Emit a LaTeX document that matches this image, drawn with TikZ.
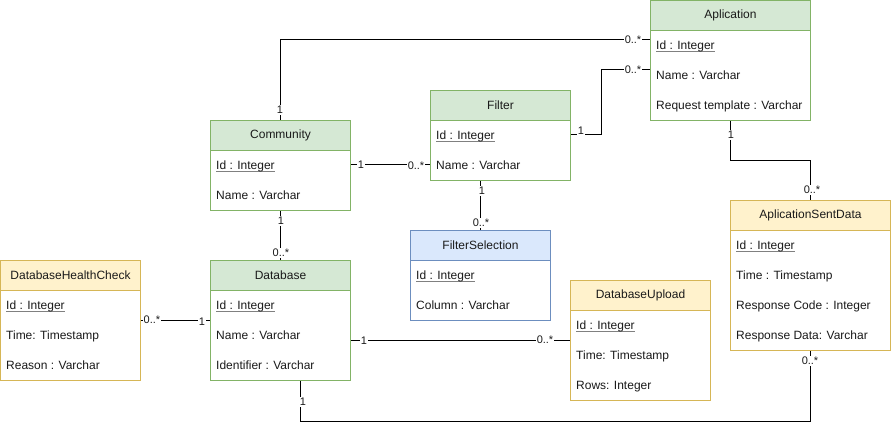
\documentclass[tikz,border=0pt]{standalone}
\usepackage{fontspec}
\setmainfont{Liberation Sans}
\usetikzlibrary{calc}
\definecolor{gfill}{HTML}{D5E8D4}\definecolor{gline}{HTML}{82B366}
\definecolor{yfill}{HTML}{FFF2CC}\definecolor{yline}{HTML}{D6B656}
\definecolor{bfill}{HTML}{DAE8FC}\definecolor{bline}{HTML}{6C8EBF}
\definecolor{txt}{HTML}{1A1A1A}
\newcommand\ul[1]{{\setbox0\hbox{#1}\rlap{\color{gray}\rule[-2.2pt]{\wd0}{0.9pt}}\box0}}
\begin{document}
\begin{tikzpicture}[x=1pt,y=-1pt,
  every node/.style={text=txt},
  frame/.style={draw=#1line, line width=1pt, fill=white, inner sep=0pt, anchor=north west},
  head/.style={draw=#1line, line width=1pt, fill=#1fill, inner sep=0pt, anchor=north west, minimum height=30pt, font=\fontsize{12}{14}\selectfont},
  row/.style={anchor=base west, inner sep=0pt, font=\fontsize{12}{14}\selectfont, yshift=-4.3pt},
  lbl/.style={fill=white, inner sep=1pt, font=\fontsize{11}{12}\selectfont},
  conn/.style={line width=1pt, draw=black}]
\useasboundingbox (0,0) rectangle (891,422);
% Aplication
\node[frame=g, minimum width=160pt, minimum height=120pt] (apl) at (650,0) {};
\node[head=g, minimum width=160pt] (aplh) at (650,0) {Aplication};
\node[row] (apl1) at (656,45) {\ul{Id : Integer}};
\node[row] (apl2) at (656,75) {Name : Varchar};
\node[row] (apl3) at (656,105) {Request template : Varchar};
% Filter
\node[frame=g, minimum width=140pt, minimum height=90pt] (fil) at (430,90) {};
\node[head=g, minimum width=140pt] (filh) at (430,90) {Filter};
\node[row] (fil1) at (436,135) {\ul{Id : Integer}};
\node[row] (fil2) at (436,165) {Name : Varchar};
% Community
\node[frame=g, minimum width=140pt, minimum height=90pt] (com) at (210,120) {};
\node[head=g, minimum width=140pt] (comh) at (210,120) {Community};
\node[row] (com1) at (216,165) {\ul{Id : Integer}};
\node[row] (com2) at (216,195) {Name : Varchar};
% FilterSelection
\node[frame=b, minimum width=140pt, minimum height=90pt] (fs) at (410,230) {};
\node[head=b, minimum width=140pt] (fsh) at (410,230) {FilterSelection};
\node[row] (fs1) at (416,275) {\ul{Id : Integer}};
\node[row] (fs2) at (416,305) {Column : Varchar};
% Database
\node[frame=g, minimum width=140pt, minimum height=120pt] (db) at (210,260) {};
\node[head=g, minimum width=140pt] (dbh) at (210,260) {Database};
\node[row] (db1) at (216,305) {\ul{Id : Integer}};
\node[row] (db2) at (216,335) {Name : Varchar};
\node[row] (db3) at (216,365) {Identifier : Varchar};
% DatabaseHealthCheck
\node[frame=y, minimum width=140pt, minimum height=120pt] (hc) at (0,260) {};
\node[head=y, minimum width=140pt] (hch) at (0,260) {DatabaseHealthCheck};
\node[row] (hc1) at (6,305) {\ul{Id : Integer}};
\node[row] (hc2) at (6,335) {Time: Timestamp};
\node[row] (hc3) at (6,365) {Reason : Varchar};
% DatabaseUpload
\node[frame=y, minimum width=140pt, minimum height=120pt] (du) at (570,280) {};
\node[head=y, minimum width=140pt] (duh) at (570,280) {DatabaseUpload};
\node[row] (du1) at (576,325) {\ul{Id : Integer}};
\node[row] (du2) at (576,355) {Time: Timestamp};
\node[row] (du3) at (576,385) {Rows: Integer};
% AplicationSentData
\node[frame=y, minimum width=160pt, minimum height=150pt] (asd) at (730,200) {};
\node[head=y, minimum width=160pt] (asdh) at (730,200) {AplicationSentData};
\node[row] (asd1) at (736,245) {\ul{Id : Integer}};
\node[row] (asd2) at (736,275) {Time : Timestamp};
\node[row] (asd3) at (736,305) {Response Code : Integer};
\node[row] (asd4) at (736,335) {Response Data: Varchar};
% connectors
\draw[conn] (comh.north) |- ($(apl.north west)+(0,40)$);
\draw[conn] ($(fil.north east)+(0,45)$) -- ++(30,0) |- ($(apl.north west)+(0,70)$);
\draw[conn] ($(com.north east)+(0,45)$) -- ($(fil.north west)+(0,75)$);
\draw[conn] ($(fil.south west)+(50,0)$) -- ($(fs.north west)+(70,0)$);
\draw[conn] (com.south) -- (dbh.north);
\draw[conn] ($(hc.north east)+(0,60)$) -- ($(db.north west)+(0,60)$);
\draw[conn] ($(db.north east)+(0,80)$) -- ($(du.north west)+(0,60)$);
\draw[conn] ($(apl.south west)+(80,0)$) -- ++(0,40) -| (asdh.north);
\draw[conn] ($(db.south west)+(90,0)$) -- ++(0,40) -| (asd.south);
% labels
\node[lbl] (l1a) at (280,110) {1};
\node[lbl] (l1b) at (633,40) {0..*};
\node[lbl] (l2a) at (581,131) {1};
\node[lbl] (l2b) at (633,70) {0..*};
\node[lbl] (l3a) at (361,165) {1};
\node[lbl] (l3b) at (416,166) {0..*};
\node[lbl] (l4a) at (482,191) {1};
\node[lbl] (l4b) at (481,223) {0..*};
\node[lbl] (l5a) at (281,221) {1};
\node[lbl] (l5b) at (281,253) {0..*};
\node[lbl] (l6a) at (152,320) {0..*};
\node[lbl] (l6b) at (202,322) {1};
\node[lbl] (l7a) at (364,341) {1};
\node[lbl] (l7b) at (545,340) {0..*};
\node[lbl] (l8a) at (731,135) {1};
\node[lbl] (l8b) at (812,190) {0..*};
\node[lbl] (l9a) at (303,402) {1};
\node[lbl] (l9b) at (810,361) {0..*};
\end{tikzpicture}
\end{document}
